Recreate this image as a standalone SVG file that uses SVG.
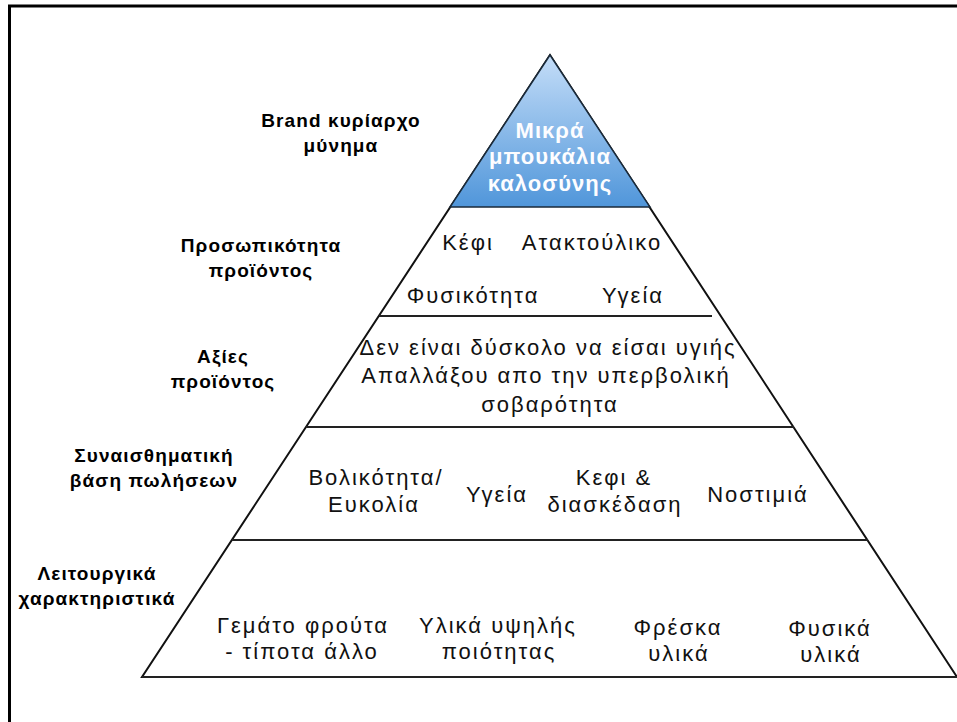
<svg xmlns="http://www.w3.org/2000/svg" width="957" height="722" viewBox="0 0 957 722">
  <defs>
    <linearGradient id="topFill" x1="0" y1="0" x2="0" y2="1">
      <stop offset="0" stop-color="#c4ddf8"/>
      <stop offset="1" stop-color="#5096da"/>
    </linearGradient>
  </defs>
  <style>
    .frame { fill: none; stroke: #000; stroke-width: 3; }
    .edge { fill: none; stroke: #111; stroke-width: 2; }
    .tier { stroke: #222; stroke-width: 2.2; }
    .label { font-family: "Liberation Sans", Arial, sans-serif; font-weight: bold; font-size: 19px; letter-spacing: 1.1px; fill: #000; text-anchor: middle; }
    .item { font-family: "Liberation Sans", Arial, sans-serif; font-size: 22px; letter-spacing: 2px; fill: #111; text-anchor: middle; }
    .peak { font-family: "Liberation Sans", Arial, sans-serif; font-weight: bold; font-size: 22px; letter-spacing: 1px; fill: #fdfdff; text-anchor: middle; }
  </style>

  <rect class="frame" x="9.5" y="6" width="1000" height="800"/>

  <!-- pyramid outline and tier dividers -->
  <g id="connectors">
    <polygon class="edge" points="550,55 142,677 957,677"/>
    <line class="tier" x1="379" y1="316" x2="712" y2="316"/>
    <line class="tier" x1="306" y1="427" x2="794" y2="427"/>
    <line class="tier" x1="232" y1="540" x2="868" y2="540"/>
    <line class="tier" x1="142" y1="677" x2="957" y2="677"/>
  </g>

  <!-- apex: brand message -->
  <g id="tier-brand">
    <polygon points="550,55 450,207 650,207" fill="url(#topFill)" stroke="#1a2a3a" stroke-width="1.5"/>
    <text class="peak" x="550" y="138">Μικρά</text>
    <text class="peak" x="550" y="164">μπουκάλια</text>
    <text class="peak" x="550" y="191">καλοσύνης</text>
  </g>

  <g id="tier-personality">
    <text class="item" x="468" y="250">Κέφι</text>
    <text class="item" x="592" y="250">Ατακτούλικο</text>
    <text class="item" x="473" y="303">Φυσικότητα</text>
    <text class="item" x="633" y="303">Υγεία</text>
  </g>

  <g id="tier-values">
    <text class="item" x="548" y="355">Δεν είναι δύσκολο να είσαι υγιής</text>
    <text class="item" x="546" y="383">Απαλλάξου απο την υπερβολική</text>
    <text class="item" x="550" y="412">σοβαρότητα</text>
  </g>

  <g id="tier-emotional">
    <text class="item" x="376" y="485">Βολικότητα/</text>
    <text class="item" x="374" y="512">Ευκολία</text>
    <text class="item" x="497" y="502">Υγεία</text>
    <text class="item" x="614" y="485">Κεφι &amp;</text>
    <text class="item" x="615" y="512">διασκέδαση</text>
    <text class="item" x="758" y="502">Νοστιμιά</text>
  </g>

  <g id="tier-functional">
    <text class="item" x="303" y="633">Γεμάτο φρούτα</text>
    <text class="item" x="302" y="659">- τίποτα άλλο</text>
    <text class="item" x="498" y="633">Υλικά υψηλής</text>
    <text class="item" x="499" y="659">ποιότητας</text>
    <text class="item" x="678" y="635">Φρέσκα</text>
    <text class="item" x="679" y="661">υλικά</text>
    <text class="item" x="830" y="636">Φυσικά</text>
    <text class="item" x="831" y="662">υλικά</text>
  </g>

  <!-- level captions on the left -->
  <g id="captions">
    <text class="label" x="341" y="127">Brand κυρίαρχο</text>
    <text class="label" x="341" y="152">μύνημα</text>
    <text class="label" x="261" y="252">Προσωπικότητα</text>
    <text class="label" x="261" y="277">προϊόντος</text>
    <text class="label" x="223" y="363">Αξίες</text>
    <text class="label" x="223" y="388">προϊόντος</text>
    <text class="label" x="154" y="462">Συναισθηματική</text>
    <text class="label" x="154" y="487">βάση πωλήσεων</text>
    <text class="label" x="97" y="580">Λειτουργικά</text>
    <text class="label" x="97" y="605">χαρακτηριστικά</text>
  </g>
</svg>
